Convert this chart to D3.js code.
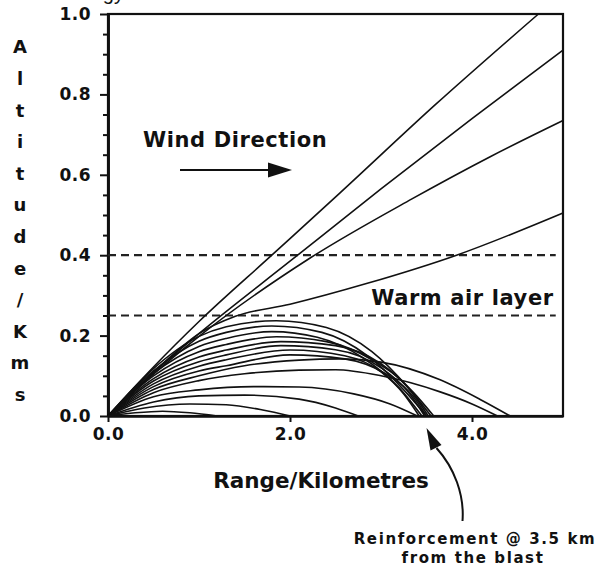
<!DOCTYPE html>
<html>
<head>
<meta charset="utf-8">
<script src="https://cdn.jsdelivr.net/npm/d3@7"></script>
<style>
  body { margin: 0; background: #fff; }
  svg text { font-family: "DejaVu Sans", "Liberation Sans", sans-serif; font-weight: bold; fill: #111; }
</style>
</head>
<body>
<div id="chart"></div>
<script>

// --------------------------------------
//  Data
// --------------------------------------

// rays that get through the warm layer and escape upwards
const escape1 = [[0,0],[0.5,0.122],[1.0,0.235],[1.8,0.40],[2.55,0.555],[3.6,0.775],[4.73,1.0]];
const escape2 = [[0,0],[0.5,0.108],[1.0,0.205],[2.0,0.385],[3.0,0.565],[4.0,0.74],[5.0,0.91]];
const escape3 = [[0,0],[0.5,0.104],[1.0,0.198],[2.2,0.39],[3.34,0.54],[4.2,0.645],[5.0,0.735]];
const escape4 = [[0,0],[0.6,0.13],[1.0,0.205],[1.4,0.248],[2.0,0.278],[2.85,0.33],[3.83,0.40],[5.0,0.505]];

// rays bent back to the ground under the warm layer
const trapped1  = [[0,0],[0.5,0.118],[1.0,0.198],[1.3,0.222],[1.85,0.237],[2.4,0.22],[2.9,0.16],[3.3,0.07],[3.55,0]];
const trapped2  = [[0,0],[0.5,0.112],[1.0,0.186],[1.3,0.208],[1.8,0.224],[2.35,0.208],[2.85,0.15],[3.25,0.065],[3.5,0]];
const trapped3  = [[0,0],[0.5,0.106],[1.0,0.173],[1.3,0.193],[1.8,0.21],[2.3,0.196],[2.8,0.145],[3.2,0.07],[3.45,0]];
const trapped4  = [[0,0],[0.5,0.1],[1.0,0.16],[1.3,0.178],[1.85,0.197],[2.4,0.185],[2.9,0.14],[3.3,0.07],[3.52,0]];
const trapped5  = [[0,0],[0.5,0.093],[1.0,0.147],[1.3,0.164],[1.9,0.185],[2.5,0.175],[3.0,0.13],[3.35,0.06],[3.58,0]];
const trapped6  = [[0,0],[0.5,0.087],[1.0,0.135],[1.3,0.152],[1.9,0.175],[2.5,0.165],[3.0,0.12],[3.3,0.06],[3.48,0]];
const trapped7  = [[0,0],[0.5,0.08],[1.0,0.124],[1.3,0.14],[2.0,0.164],[2.6,0.15],[3.0,0.11],[3.25,0.055],[3.42,0]];
const trapped8  = [[0,0],[0.5,0.073],[1.0,0.112],[1.3,0.125],[2.0,0.152],[2.6,0.142],[3.05,0.105],[3.35,0.05],[3.5,0]];
const trapped9  = [[0,0],[0.5,0.066],[1.0,0.1],[1.5,0.125],[2.1,0.139],[2.55,0.142],[3.0,0.134],[3.65,0.09],[4.1,0.04],[4.42,0]];
const trapped10 = [[0,0],[0.5,0.058],[1.0,0.088],[1.5,0.105],[2.1,0.114],[2.5,0.115],[3.0,0.1],[3.65,0.06],[4.0,0.03],[4.28,0]];
const trapped11 = [[0,0],[0.5,0.048],[1.0,0.065],[1.6,0.073],[2.1,0.072],[2.7,0.055],[3.1,0.03],[3.4,0]];
const trapped12 = [[0,0],[0.5,0.035],[1.0,0.05],[1.5,0.052],[2.1,0.042],[2.5,0.02],[2.75,0]];
const trapped13 = [[0,0],[0.4,0.02],[0.9,0.03],[1.3,0.028],[1.7,0.015],[2.0,0]];
const trapped14 = [[0,0],[0.3,0.008],[0.6,0.012],[0.9,0.008],[1.2,0]];

const escapingRays = [escape1, escape2, escape3, escape4];
const trappedRays = [trapped1, trapped2, trapped3, trapped4, trapped5, trapped6, trapped7,
                     trapped8, trapped9, trapped10, trapped11, trapped12, trapped13, trapped14];

// warm air layer bounds (km)
const layerHeights = [0.25, 0.4];
const layerEnd = 4.92;

const xTicks = [0, 2, 4];
const yTicks = [0, 0.2, 0.4, 0.6, 0.8, 1.0];
const yMinorTicks = [0.05,0.1,0.15,0.25,0.3,0.35,0.45,0.5,0.55,0.65,0.7,0.75,0.85,0.9,0.95];

const yTitle = "Altitude/Kms";
const reinforcementAt = 3.5;

// --------------------------------------
//  Canvas
// --------------------------------------

const width = 598, height = 569;
const margin = {top: 14, right: 35, bottom: 153, left: 108};
const innerwidth = width - margin.left - margin.right;
const innerheight = height - margin.top - margin.bottom;

const svg = d3.select("#chart")
  .append("svg")
    .attr("width", width)
    .attr("height", height)
    .attr("viewBox", [0, 0, width, height]);

const innerChart = svg
  .append("g")
    .attr("transform", `translate(${margin.left}, ${margin.top})`);

// --------------------------------------
//  Scales
// --------------------------------------

const x = d3.scaleLinear()
    .domain([0, 5])
    .range([0, innerwidth]);

const y = d3.scaleLinear()
    .domain([0, 1])
    .range([innerheight, 0]);

// --------------------------------------
//  Frame and axes
// --------------------------------------

innerChart.append("rect")
  .attr("width", innerwidth)
  .attr("height", innerheight)
  .attr("fill", "none")
  .attr("stroke", "#111")
  .attr("stroke-width", 2.2);

const yMinor = innerChart.append("g")
  .call(d3.axisLeft(y).tickValues(yMinorTicks).tickSize(5).tickSizeOuter(0).tickFormat(""));

const yAxis = innerChart.append("g")
  .call(d3.axisLeft(y).tickValues(yTicks).tickSize(8).tickSizeOuter(0)
          .tickPadding(9).tickFormat(d3.format(".1f")));

const xAxis = innerChart.append("g")
  .attr("transform", `translate(0, ${innerheight})`)
  .call(d3.axisBottom(x).tickValues(xTicks).tickSize(6).tickSizeOuter(0)
          .tickPadding(6).tickFormat(d3.format(".1f")));

[yMinor, yAxis, xAxis].forEach(g => {
  g.attr("font-family", null).attr("font-size", null);
  g.selectAll("path.domain").attr("stroke", "#111").attr("stroke-width", 2.6);
  g.selectAll(".tick line").attr("stroke", "#111").attr("stroke-width", 2);
  g.selectAll(".tick text").style("font-size", "17px").style("letter-spacing", "0.5px");
});

// --------------------------------------
//  Warm air layer
// --------------------------------------

innerChart.append("g")
  .selectAll("line")
  .data(layerHeights)
  .join("line")
    .attr("x1", x(0))
    .attr("x2", x(layerEnd))
    .attr("y1", d => y(d))
    .attr("y2", d => y(d))
    .attr("stroke", "#222")
    .attr("stroke-width", 2.2)
    .attr("stroke-dasharray", "8,5");

// --------------------------------------
//  Rays
// --------------------------------------

const line = d3.line()
  .x(d => x(d[0]))
  .y(d => y(d[1]))
  .curve(d3.curveMonotoneX);

innerChart.append("g")
  .selectAll("path")
  .data(escapingRays.concat(trappedRays))
  .join("path")
    .attr("d", line)
    .attr("fill", "none")
    .attr("stroke", "#111")
    .attr("stroke-width", 1.6);

// --------------------------------------
//  Labels
// --------------------------------------

// title, cut off by the top of the image
svg.append("text")
  .attr("x", 124)
  .attr("y", 0)
  .attr("text-anchor", "end")
  .style("font-family", "'Liberation Sans', sans-serif")
  .style("font-weight", "normal")
  .style("font-size", "20px")
  .text("ogy");

svg.append("g")
  .selectAll("text")
  .data(yTitle.split(""))
  .join("text")
    .attr("x", 20)
    .attr("y", (d, i) => 47 + i * 31.6)
    .attr("dy", "0.36em")
    .attr("text-anchor", "middle")
    .style("font-size", "18px")
    .text(d => d);

svg.append("text")
  .attr("x", 143)
  .attr("y", 147)
  .style("font-size", "21px")
  .style("letter-spacing", "0.6px")
  .text("Wind Direction");

// wind arrow
svg.append("line")
  .attr("x1", 180).attr("x2", 272)
  .attr("y1", 170).attr("y2", 170)
  .attr("stroke", "#111")
  .attr("stroke-width", 2.2);
svg.append("path")
  .attr("d", "M268,162.5 L292,170 L268,177.5 Z")
  .attr("fill", "#111");

svg.append("text")
  .attr("x", margin.left + x(layerEnd) - 2)
  .attr("y", 305)
  .attr("text-anchor", "end")
  .style("font-size", "21px")
  .style("letter-spacing", "0.6px")
  .text("Warm air layer");

svg.append("text")
  .attr("x", 321)
  .attr("y", 488)
  .attr("text-anchor", "middle")
  .style("font-size", "21.5px")
  .text("Range/Kilometres");

// reinforcement annotation
const tipX = margin.left + x(reinforcementAt);
const tipY = margin.top + y(0) + 12;

svg.append("path")
  .attr("d", `M${tipX + 36},521 C${tipX + 38},495 ${tipX + 28},468 ${tipX + 10},448`)
  .attr("fill", "none")
  .attr("stroke", "#111")
  .attr("stroke-width", 2);
svg.append("path")
  .attr("d", `M${tipX},${tipY} L${tipX + 15},${tipY + 17} L${tipX + 4},${tipY + 22.5} Z`)
  .attr("fill", "#111");

svg.append("text")
  .attr("x", 475)
  .attr("y", 544)
  .attr("text-anchor", "middle")
  .style("font-size", "15px")
  .style("letter-spacing", "1.6px")
  .text("Reinforcement @ 3.5 km");

svg.append("text")
  .attr("x", 473)
  .attr("y", 563)
  .attr("text-anchor", "middle")
  .style("font-size", "15px")
  .style("letter-spacing", "1.6px")
  .text("from the blast");

</script>
</body>
</html>
